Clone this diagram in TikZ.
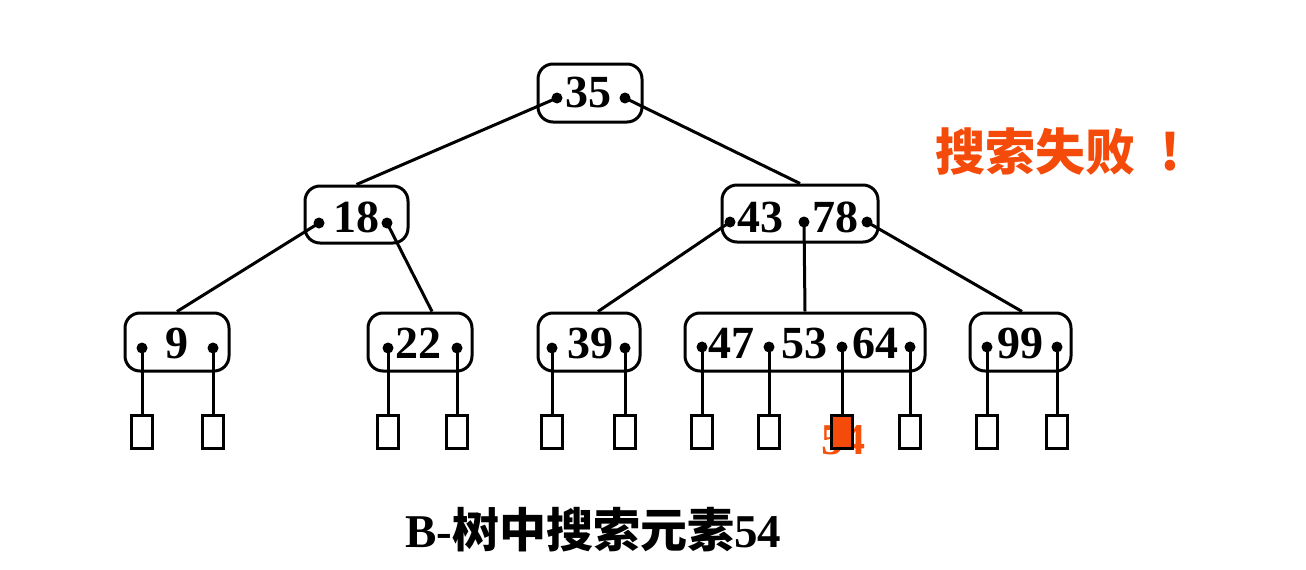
\documentclass[tikz,border=0pt]{standalone}
\usepackage{fontspec}
\setmainfont{Liberation Serif}
\newfontfamily\cjk{Noto Sans CJK SC}
\definecolor{failred}{RGB}{245,75,10}
\begin{document}
\begin{tikzpicture}[x=1pt,y=-1pt,
  bbox/.style={draw, line width=3pt, rounded corners=15pt, inner sep=0pt},
  dotp/.style={circle, fill=black, inner sep=0pt, minimum size=11pt},
  key/.style={font=\fontsize{46}{50}\bfseries\selectfont, anchor=base, inner sep=0pt},
  leaf/.style={draw, line width=2.6pt, minimum width=21pt, minimum height=33pt, inner sep=0pt},
  edge/.style={line width=3pt}]
\fill[white] (0,0) rectangle (1306,570);
\useasboundingbox (0,0) rectangle (1306,570);

% boxes
\node[bbox, minimum width=104pt, minimum height=58pt] (n35) at (590,93) {};
\node[bbox, minimum width=103pt, minimum height=57pt] (n18) at (356.5,214.5) {};
\node[bbox, minimum width=156pt, minimum height=57pt] (n4378) at (800,213.5) {};
\node[bbox, minimum width=104pt, minimum height=58pt] (n9) at (177,342) {};
\node[bbox, minimum width=104pt, minimum height=58pt] (n22) at (420,342) {};
\node[bbox, minimum width=102pt, minimum height=58pt] (n39) at (589,342) {};
\node[bbox, minimum width=240pt, minimum height=58pt] (n475364) at (805,342) {};
\node[bbox, minimum width=101pt, minimum height=58pt] (n99) at (1020.5,342) {};

% keys
\node[key] (k35) at (588,107) {35};
\node[key] (k18) at (356,232) {18};
\node[key] (k43) at (760,232) {43};
\node[key] (k78) at (835,232) {78};
\node[key] (k9) at (177,358) {9};
\node[key] (k22) at (418,358) {22};
\node[key] (k39) at (590,358) {39};
\node[key] (k47) at (731,358) {47};
\node[key] (k53) at (804,358) {53};
\node[key] (k64) at (875,358) {64};
\node[key] (k99) at (1020,358) {99};

% pointer dots
\node[dotp] (r1) at (557,98) {};
\node[dotp] (r2) at (625,98) {};
\node[dotp] (a1) at (319,223) {};
\node[dotp] (a2) at (387,223) {};
\node[dotp] (b1) at (730,222) {};
\node[dotp] (b2) at (804,222) {};
\node[dotp] (b3) at (867,222) {};
\node[dotp] (c1) at (142,348) {};
\node[dotp] (c2) at (213,348) {};
\node[dotp] (d1) at (388,348) {};
\node[dotp] (d2) at (457,348) {};
\node[dotp] (e1) at (552,348) {};
\node[dotp] (e2) at (625,348) {};
\node[dotp] (f1) at (702,347) {};
\node[dotp] (f2) at (769,347) {};
\node[dotp] (f3) at (842,347) {};
\node[dotp] (f4) at (910,347) {};
\node[dotp] (g1) at (987,347) {};
\node[dotp] (g2) at (1057,347) {};

% tree edges
\draw[edge] (r1.center) -- (n18.north);
\draw[edge] (r2.center) -- (n4378.north);
\draw[edge] (a1.center) -- (n9.north);
\draw[edge] (a2.center) -- ([xshift=12pt]n22.north);
\draw[edge] (b1.center) -- ([xshift=9pt]n39.north);
\draw[edge] (b2.center) -- (n475364.north);
\draw[edge] (b3.center) -- ([xshift=1.5pt]n99.north);

% failed search label under red leaf
\node[font=\fontsize{44}{48}\bfseries\selectfont, text=failred!90!orange, inner sep=0pt] (t54) at (843,440) {54};

% leaves
\node[leaf] (l1) at (142,432) {};
\node[leaf] (l2) at (213,432) {};
\node[leaf] (l3) at (388,432) {};
\node[leaf] (l4) at (457,432) {};
\node[leaf] (l5) at (552,432) {};
\node[leaf] (l6) at (625,432) {};
\node[leaf] (l7) at (702,432) {};
\node[leaf] (l8) at (769,432) {};
\node[leaf, fill=failred] (l9) at (842,432) {};
\node[leaf] (l10) at (910,432) {};
\node[leaf] (l11) at (987,432) {};
\node[leaf] (l12) at (1057,432) {};

\foreach \d/\l in {c1/l1,c2/l2,d1/l3,d2/l4,e1/l5,e2/l6,f1/l7,f2/l8,f3/l9,f4/l10,g1/l11,g2/l12}
  \draw[edge] (\d.center) -- (\l.north);

% captions
\node[font=\fontsize{50}{54}\selectfont\cjk\bfseries, text=failred, inner sep=0pt] (fail) at (1035,152) {搜索失败};
\node[font=\fontsize{50}{54}\selectfont\cjk\bfseries, text=failred, inner sep=0pt] (excl) at (1170,152) {!};
\node[font=\fontsize{47}{50}\bfseries\selectfont, anchor=base, inner sep=0pt] (cap) at (593,547) {B-{\cjk\bfseries 树中搜索元素}54};
\end{tikzpicture}
\end{document}
